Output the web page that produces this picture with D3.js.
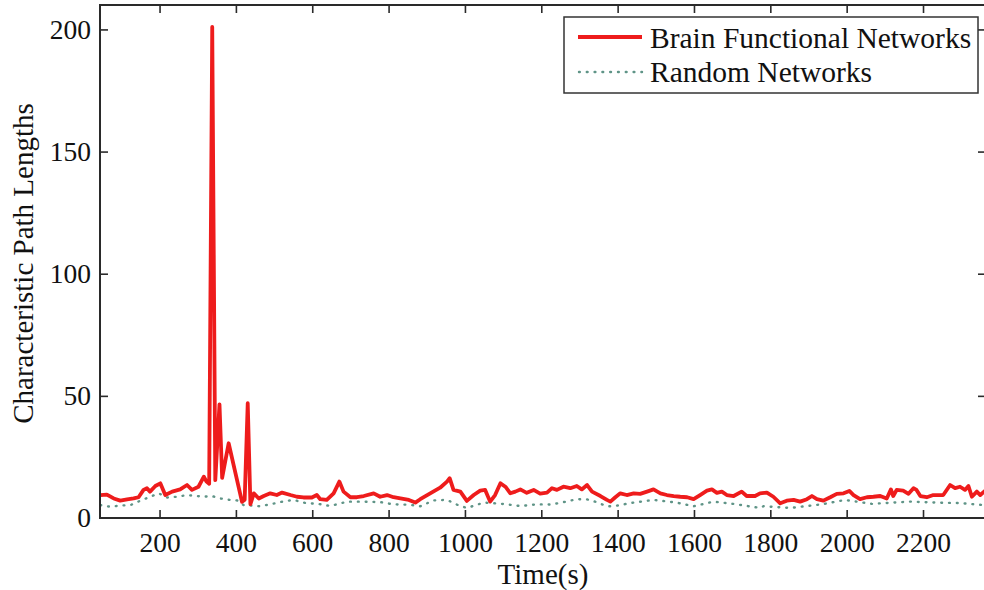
<!DOCTYPE html>
<html>
<head>
<meta charset="utf-8">
<script src="https://cdn.jsdelivr.net/npm/d3@7"></script>
<style>
  html, body { margin: 0; padding: 0; background: #fff; }
  svg { display: block; }
  text { font-family: "Liberation Serif", "Times New Roman", serif; fill: #111; }
</style>
</head>
<body>
<svg id="chart" width="984" height="590"></svg>
<script>
// ---- data ----
const brainTime = [45,62,80,97,115,132,145,158,167,175,189,202,215,233,254,272,285,302,316,323,330,338,346,357,364,381,416,423,431,438,447,460,473,490,507,521,543,560,577,599,612,621,638,656,671,682,700,717,735,761,778,796,813,831,853,870,883,909,935,953,960,970,988,1005,1023,1040,1053,1066,1079,1093,1106,1119,1132,1145,1162,1180,1197,1215,1228,1241,1258,1276,1293,1306,1320,1333,1355,1372,1381,1394,1407,1424,1442,1459,1477,1494,1512,1529,1547,1564,1582,1599,1616,1634,1647,1660,1673,1686,1704,1725,1738,1760,1773,1791,1808,1826,1843,1861,1878,1896,1909,1922,1939,1957,1974,1992,2007,2018,2035,2053,2070,2088,2105,2116,2122,2131,2148,2162,2175,2183,2193,2210,2227,2253,2271,2284,2297,2310,2319,2328,2341,2350,2365];
const brainValues = [9.4,9.6,8,7.1,7.6,8,8.5,11.5,12.2,10.8,13.1,14.2,9.4,10.8,11.7,13.5,11.5,12.8,16.9,14.9,14,201,15.5,46.5,16.4,30.6,6.6,7.5,47,5.7,10.1,8,9,10.1,9.4,10.4,9.4,8.7,8.4,8.4,9.4,7.7,7.4,10.1,14.9,10.8,8.5,8.5,9,10.1,8.7,9.4,8.5,8,7.4,6.3,7.7,10.1,12.4,14.9,16.3,11.5,10.8,7,9.4,11.2,11.5,6.7,9.4,14.2,12.8,10.1,10.8,11.7,10.3,11.5,10,10.4,12.2,11.5,12.8,12.2,13.1,11.7,13.5,10.8,9,7.4,6.7,8.5,10.1,9.4,10.1,9.9,10.8,11.7,10.1,9.4,9,8.7,8.5,7.7,9.4,11.2,11.7,10.3,10.8,9.4,9,10.8,9,9,10.1,10.4,8.7,6,7.1,7.4,6.7,7.7,9,7.7,7.1,8.5,9.9,10.1,11.1,9.4,7.7,8.5,8.7,9,8,11.7,9,11.5,11.2,9.9,12.2,11.5,9,8.5,9.4,9.4,13.5,12.2,12.8,11.5,13.1,8.7,10.8,9.4,11.5];

const randomTime = [45,71,97,124,150,176,198,220,246,272,298,316,337,359,385,403,420,438,464,499,525,551,586,612,647,691,735,778,813,857,883,918,953,979,1005,1049,1097,1145,1189,1224,1250,1293,1320,1341,1372,1389,1437,1494,1555,1599,1651,1712,1773,1782,1852,1935,1996,2066,2166,2236,2297,2365];
const randomValues = [5.3,4.6,5.1,5.3,7.1,8.7,10.1,8.4,8.7,9.4,9,8.7,9,8,7.4,7.2,5.3,5.1,4.8,5.9,6.8,7.4,6,5.9,4.9,6.7,6.7,6.5,5.6,5.4,4.8,7.2,7.4,5.5,4.1,6.3,5.8,4.9,5.6,5.5,6.2,7.7,7.6,6.7,4.8,4.8,6.2,7.4,6.3,4.8,6.7,5.6,4.1,4.8,4.1,5.6,7.4,5.8,6.7,6.3,6.1,5.2];

const xTicks = [200,400,600,800,1000,1200,1400,1600,1800,2000,2200];
const yTicks = [0,50,100,150,200];
const seriesNames = ["Brain Functional Networks", "Random Networks"];
const xDomain = [44, 2365];
const yDomain = [0, 210];

// ---- layout ----
const svg = d3.select("#chart");
const mL = 100, mT = 5, mR = 986, mB = 518;
const red = "#ee1c1c", teal = "#5f9487", axisColor = "#2a2a2a";

const x = d3.scaleLinear().domain(xDomain).range([mL, mR]);
const y = d3.scaleLinear().domain(yDomain).range([mB, mT]);

svg.append("defs").append("clipPath").attr("id", "clip")
  .append("rect").attr("x", mL).attr("y", mT).attr("width", mR - mL).attr("height", mB - mT);

const brain = brainTime.map((t, i) => [t, brainValues[i]]);
const rnd = randomTime.map((t, i) => [t, randomValues[i]]);
const line = d3.line().x(d => x(d[0])).y(d => y(d[1]));

const plot = svg.append("g").attr("clip-path", "url(#clip)");
plot.append("path").datum(rnd).attr("d", line)
  .attr("fill", "none").attr("stroke", teal).attr("stroke-width", 2.4)
  .attr("stroke-dasharray", "0.8,7").attr("stroke-linecap", "round");
plot.append("path").datum(brain).attr("d", line)
  .attr("fill", "none").attr("stroke", red).attr("stroke-width", 3.8)
  .attr("stroke-linejoin", "round");

// axes (ticks inward, mirrored)
const tickLen = 8;
const fontTick = 27.5;
const fmt = d3.format("d");
const bAxis = svg.append("g").attr("transform", `translate(0,${mB})`)
  .call(d3.axisBottom(x).tickValues(xTicks).tickFormat(fmt).tickSize(-tickLen).tickPadding(14).tickSizeOuter(0));
const tAxis = svg.append("g").attr("transform", `translate(0,${mT})`)
  .call(d3.axisTop(x).tickValues(xTicks).tickSize(-tickLen).tickFormat("").tickSizeOuter(0));
const lAxis = svg.append("g").attr("transform", `translate(${mL},0)`)
  .call(d3.axisLeft(y).tickValues(yTicks).tickFormat(fmt).tickSize(-tickLen).tickPadding(9).tickSizeOuter(0));
const rAxis = svg.append("g").attr("transform", `translate(${mR},0)`)
  .call(d3.axisRight(y).tickValues(yTicks).tickSize(-tickLen).tickFormat("").tickSizeOuter(0));
[bAxis, tAxis, lAxis, rAxis].forEach(g => {
  g.select(".domain").remove();
  g.selectAll(".tick line").attr("stroke", axisColor).attr("stroke-width", 1.6);
  g.selectAll(".tick text").attr("font-family", "Liberation Serif").attr("font-size", fontTick).attr("fill", "#111");
});
lAxis.selectAll(".tick").filter(d => d === 0).select("line").remove();
rAxis.selectAll(".tick").filter(d => d === 0).select("line").remove();

svg.append("rect").attr("x", mL).attr("y", mT).attr("width", mR - mL).attr("height", mB - mT)
  .attr("fill", "none").attr("stroke", axisColor).attr("stroke-width", 2);

// axis titles
svg.append("text").attr("x", (mL + mR) / 2).attr("y", 584)
  .attr("text-anchor", "middle").attr("font-size", 29).text("Time(s)");
svg.append("text").attr("transform", `translate(33,${(mT + mB) / 2 + 2}) rotate(-90)`)
  .attr("text-anchor", "middle").attr("font-size", 29).text("Characteristic Path Lengths");

// legend
const lg = svg.append("g");
lg.append("rect").attr("x", 564).attr("y", 17).attr("width", 414).attr("height", 76)
  .attr("fill", "#fff").attr("stroke", "#333").attr("stroke-width", 1.5);
lg.append("line").attr("x1", 578).attr("x2", 642).attr("y1", 37).attr("y2", 37)
  .attr("stroke", red).attr("stroke-width", 3.8);
lg.append("line").attr("x1", 579).attr("x2", 642).attr("y1", 72).attr("y2", 72)
  .attr("stroke", teal).attr("stroke-width", 2.4).attr("stroke-dasharray", "0.8,7").attr("stroke-linecap", "round");
lg.append("text").attr("x", 650).attr("y", 48).attr("font-size", 29.5).text(seriesNames[0]);
lg.append("text").attr("x", 650).attr("y", 82).attr("font-size", 29.5).text(seriesNames[1]);
</script>
</body>
</html>
